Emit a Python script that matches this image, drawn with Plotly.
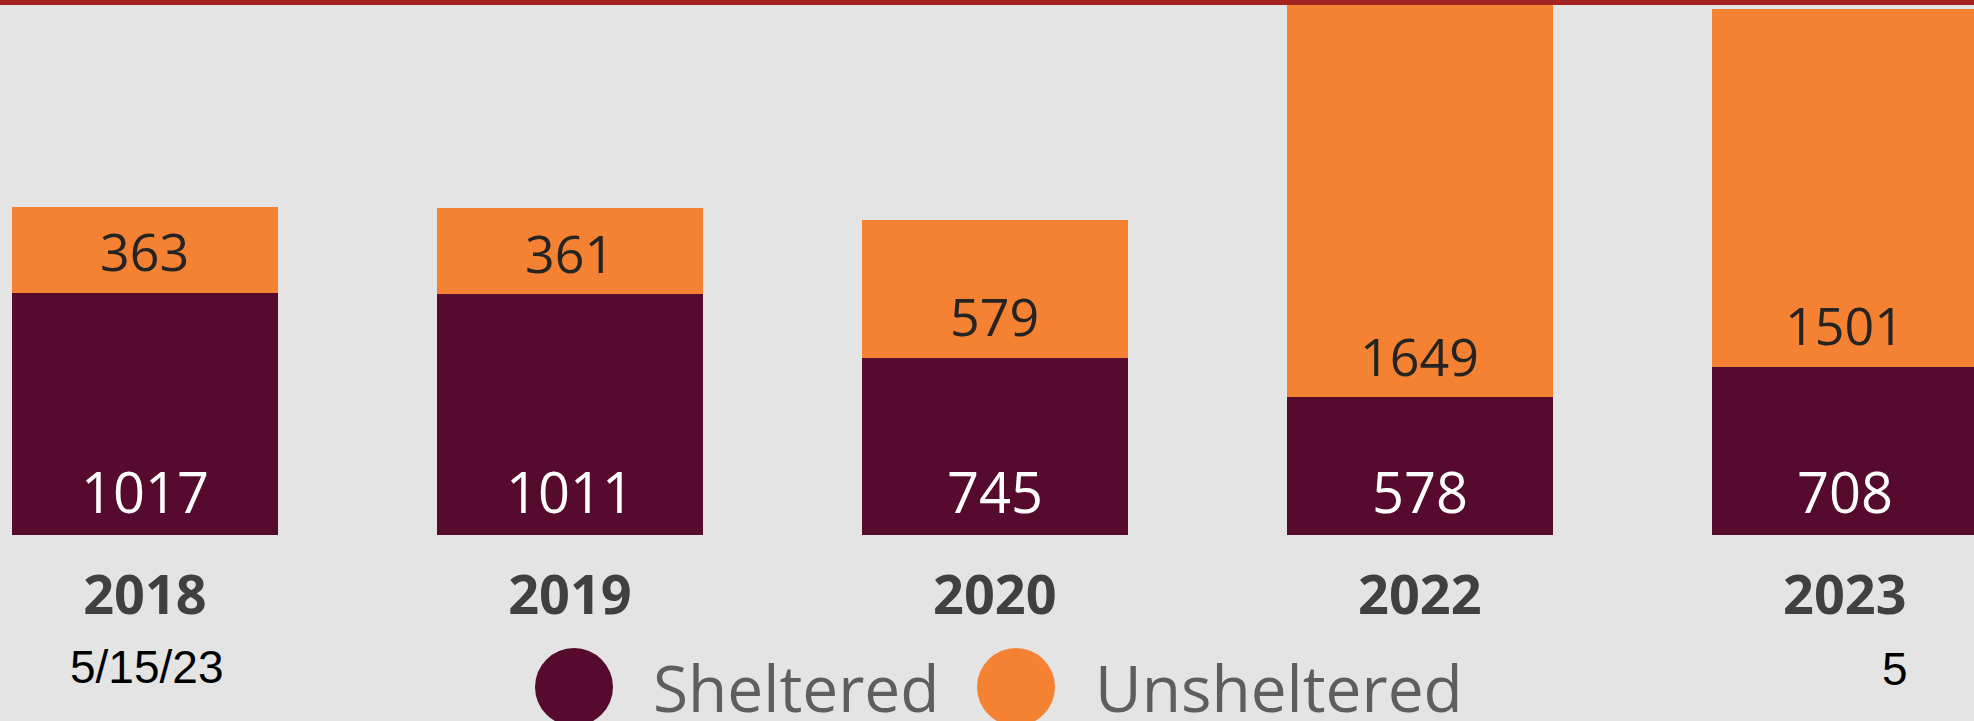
import plotly.graph_objects as go

years = ["2018", "2019", "2020", "2022", "2023"]
sheltered = [1017, 1011, 745, 578, 708]
unsheltered = [363, 361, 579, 1649, 1501]
legend_names = ["Sheltered", "Unsheltered"]
date_note = "5/15/23"
side_note = "5"

W, H = 1974, 721
PLOT_BOTTOM = 535  # pixel row of the value-0 baseline
MAROON = "#550A2E"
ORANGE = "#F58233"
BG = "#E4E4E4"

fig = go.Figure()
fig.add_trace(go.Bar(x=years, y=sheltered, name=legend_names[0],
                     marker=dict(color=MAROON, line=dict(width=0)),
                     hoverinfo="skip", showlegend=False))
fig.add_trace(go.Bar(x=years, y=unsheltered, name=legend_names[1],
                     marker=dict(color=ORANGE, line=dict(width=0)),
                     hoverinfo="skip", showlegend=False))

annotations = []
# data labels anchored at the base of each segment
for i, (s, u) in enumerate(zip(sheltered, unsheltered)):
    annotations.append(dict(x=i, y=0, xref="x", yref="y", text=str(s),
                            showarrow=False, yanchor="middle", yshift=44,
                            font=dict(family="Open Sans", size=56, color="#FFFFFF")))
    annotations.append(dict(x=i, y=s, xref="x", yref="y", text=str(u),
                            showarrow=False, yanchor="middle", yshift=42,
                            font=dict(family="Open Sans", size=52, color="#252423")))

def py(p):
    return (PLOT_BOTTOM - p) / PLOT_BOTTOM

annotations.append(dict(x=146 / W, y=py(667), xref="paper", yref="paper", text=date_note,
                        showarrow=False, xanchor="center", yanchor="middle",
                        font=dict(family="Liberation Sans Narrow, Liberation Sans", size=46, color="#000000")))
annotations.append(dict(x=1895 / W, y=py(669), xref="paper", yref="paper", text=side_note,
                        showarrow=False, xanchor="center", yanchor="middle",
                        font=dict(family="Liberation Sans Narrow, Liberation Sans", size=46, color="#000000")))
annotations.append(dict(x=651 / W, y=py(687), xref="paper", yref="paper", text=legend_names[0],
                        showarrow=False, xanchor="left", yanchor="middle",
                        font=dict(family="Open Sans", size=64, color="#605E5C")))
annotations.append(dict(x=1093 / W, y=py(687), xref="paper", yref="paper", text=legend_names[1],
                        showarrow=False, xanchor="left", yanchor="middle",
                        font=dict(family="Open Sans", size=64, color="#605E5C")))

shapes = [
    dict(type="circle", xref="paper", yref="paper", xsizemode="pixel", ysizemode="pixel",
         xanchor=574 / W, yanchor=py(687), x0=-39, x1=39, y0=-39, y1=39,
         fillcolor=MAROON, line=dict(width=0)),
    dict(type="circle", xref="paper", yref="paper", xsizemode="pixel", ysizemode="pixel",
         xanchor=1016 / W, yanchor=py(687), x0=-39, x1=39, y0=-39, y1=39,
         fillcolor=ORANGE, line=dict(width=0)),
    dict(type="rect", xref="paper", yref="paper", ysizemode="pixel", yanchor=1,
         x0=0, x1=1, y0=-5, y1=0, fillcolor="#A52422", line=dict(width=0), layer="above"),
]

fig.update_layout(
    width=W, height=H, autosize=False,
    margin=dict(l=0, r=0, t=0, b=H - PLOT_BOTTOM, pad=0),
    paper_bgcolor=BG, plot_bgcolor=BG,
    barmode="stack", bargap=0.374,
    showlegend=False,
    annotations=annotations, shapes=shapes,
    xaxis=dict(type="category", range=[-0.341, 4.304], showgrid=False, zeroline=False,
               showline=False, ticks="", ticklabelstandoff=24,
               tickfont=dict(family="Open Sans", size=54, color="#404040", weight="bold")),
    yaxis=dict(range=[0, 2248], showticklabels=False, ticks="", showgrid=False,
               zeroline=False, showline=False),
)

fig.write_html("out.html", config={"displayModeBar": False},
               post_script="document.body.style.margin='0';document.body.style.overflow='hidden';")
